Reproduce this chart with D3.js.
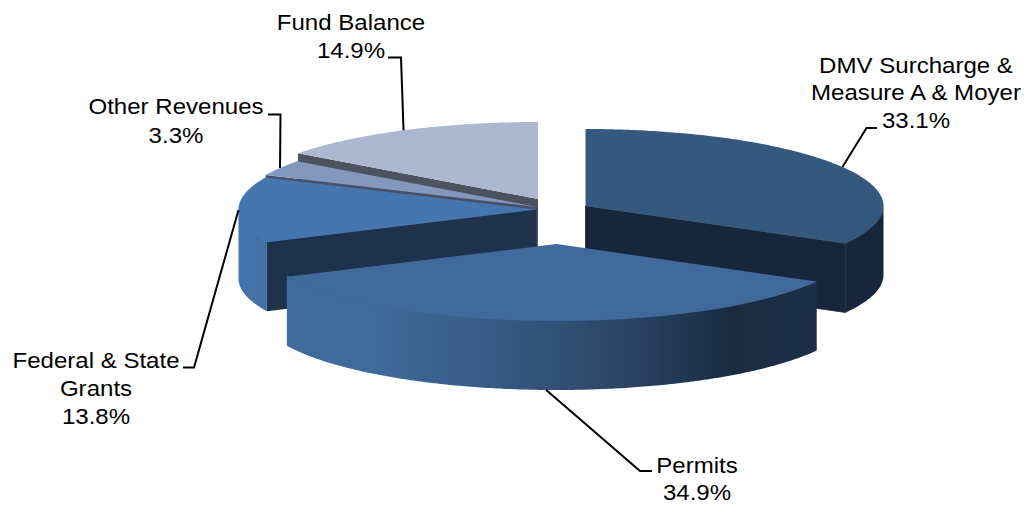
<!DOCTYPE html>
<html><head><meta charset="utf-8">
<script src="https://cdn.jsdelivr.net/npm/d3@7"></script>
<style>html,body{margin:0;padding:0;background:#fff}svg{display:block}text{font-family:"Liberation Sans",Arial,sans-serif;font-size:22.6px;fill:#000}</style>
</head><body><svg width="1026" height="505"></svg>
<script>
const categories = ["DMV Surcharge & Measure A & Moyer","Permits","Federal & State Grants","Other Revenues","Fund Balance"];
const values = [33.1,34.9,13.8,3.3,14.9];
const labelLines = [["DMV Surcharge &","Measure A & Moyer","33.1%"],["Permits","34.9%"],["Federal & State","Grants","13.8%"],["Other Revenues","3.3%"],["Fund Balance","14.9%"]];
const topColors = ["#35587F","#3F6A9B","#4576B0","#8497BD","#ACB8D0"];
const cutColors = ["#17263A","#1B2E46","#1E324B","#4A5068","#4A535E"];

// layout
const RX=298, RY=77, DEPTH=69;
const centers=[[585.5,206],[556.5,244],[536.5,209.5],[537,207],[538,199]];
const labelPos=[[916,73,27.5],[697,473.5,26.5],[96,368,28],[176,114,29],[351,30,28]];
const elbows=[[[866.5,128],[877,128]],[[640,471],[652,471]],[[194,367.5],[183,367.5]],[[280.5,114.5],[268,114.5]],[[401,57.5],[388,57.5]]];
const leaderDrop=[0,DEPTH,0,0,0];
const drawOrder=[4,3,2,0,1];

const svg=d3.select("svg");
const defs=svg.append("defs");
function grad(id,x1,x2,stops){
  const g=defs.append("linearGradient").attr("id",id).attr("gradientUnits","userSpaceOnUse")
    .attr("x1",x1).attr("x2",x2).attr("y1",0).attr("y2",0);
  stops.forEach(s=>g.append("stop").attr("offset",s[0]).attr("stop-color",s[1]));
}
grad("wallPermits",286,817,[[0,"#3F6A9B"],[0.17,"#3F6A9B"],[0.45,"#34567D"],[0.65,"#2A4464"],[0.84,"#1A2B41"],[1,"#1C2F48"]]);
grad("wallFederal",238,267,[[0,"#4674AD"],[1,"#426FA5"]]);

const arcs=d3.pie().value(d=>d).sort(null).startAngle(0).endAngle(2*Math.PI)(values);
const line=d3.line();
const pt=(c,a,dy=0)=>[c[0]+RX*Math.sin(a),c[1]-RY*Math.cos(a)+dy];
const samples=(a0,a1)=>{const n=Math.max(2,Math.ceil((a1-a0)*90));return d3.range(n+1).map(i=>a0+(a1-a0)*i/n);};

const g=svg.append("g");
drawOrder.forEach(i=>{
  const d=arcs[i], c=centers[i], a0=d.startAngle, a1=d.endAngle;
  const P=Math.PI;
  const cut=(a)=>line([c,pt(c,a),pt(c,a,DEPTH),[c[0],c[1]+DEPTH]])+"Z";
  // visible cut faces
  if(i>=2) g.append("path").attr("d",cut(a0)).attr("fill",cutColors[i]);
  if(i===0) g.append("path").attr("d",cut(a1)).attr("fill",cutColors[i]).attr("stroke",cutColors[i]).attr("stroke-width",0.8);
  // outer front wall; its upper edge is tucked under the top face so no seam shows
  const w0=Math.max(a0,P/2), w1=Math.min(a1,3*P/2);
  if(w1>w0){
    const s=samples(w0,w1);
    const top=s.map((a,k)=>pt(c,a,(k===0||k===s.length-1)?0:-1.5));
    const bot=s.map(a=>pt(c,a,DEPTH)).reverse();
    const fill=i===1?"url(#wallPermits)":i===2?"url(#wallFederal)":cutColors[i];
    g.append("path").attr("d",line(top.concat(bot))+"Z").attr("fill",fill);
  }
  // top face
  g.append("path").attr("d",line([c].concat(samples(a0,a1).map(a=>pt(c,a))))+"Z").attr("fill",topColors[i]);
});

// leaders and labels
arcs.forEach((d,i)=>{
  const mid=(d.startAngle+d.endAngle)/2;
  svg.append("path").attr("d",line([pt(centers[i],mid,leaderDrop[i])].concat(elbows[i])))
    .attr("fill","none").attr("stroke","#000").attr("stroke-width",2);
  const t=svg.append("text").attr("text-anchor","middle")
    .attr("transform",`translate(${labelPos[i][0]},0) scale(1.065,1)`);
  labelLines[i].forEach((s,k)=>t.append("tspan").attr("x",0).attr("y",labelPos[i][1]+k*labelPos[i][2]).text(s));
});
</script></body></html>
